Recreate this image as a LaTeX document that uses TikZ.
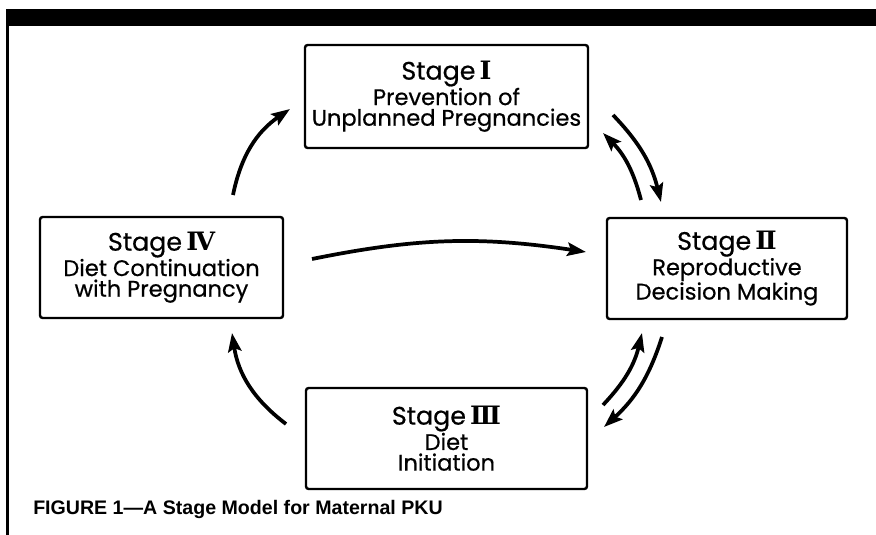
\documentclass[tikz,border=0pt]{standalone}
\usepackage{fontspec}
\usetikzlibrary{arrows.meta}
\newfontfamily\boxfont[FakeBold=0.6]{Poppins}
\newfontfamily\numfont{DejaVu Serif}
\newfontfamily\capfont{Liberation Sans}
\newcommand{\stagehead}[1]{{\fontsize{19pt}{15pt}\selectfont Stage\,{\numfont\bfseries #1}}}
\begin{document}
\begin{tikzpicture}[x=0.75pt,y=-0.75pt,
  stagebox/.style={draw, line width=1.8pt, rounded corners=2pt, align=center,
    inner sep=0pt, font=\boxfont\fontsize{16.9pt}{15.5pt}\selectfont},
  flow/.style={line width=2.8pt, -{Stealth[length=14pt,width=10pt,inset=2.5pt]}}
]
\useasboundingbox (0,0) rectangle (876,535);
% frame
\fill (6,9) rectangle (876,26);
\draw[line width=2.2pt] (7.5,9) -- (7.5,535);

% boxes
\node[stagebox, minimum width=212.25pt, minimum height=77.25pt] (s1) at (446.5,96.5)
  {\stagehead{Ⅰ}\\Prevention of\\Unplanned Pregnancies};
\node[stagebox, minimum width=180pt, minimum height=75.75pt] (s2) at (727,268.5)
  {\stagehead{Ⅱ}\\Reproductive\\Decision Making};
\node[stagebox, minimum width=210.75pt, minimum height=75.75pt] (s3) at (446.5,438.5)
  {\stagehead{Ⅲ}\\Diet\\Initiation};
\node[stagebox, minimum width=182.25pt, minimum height=75.75pt] (s4) at (161.5,267.5)
  {\stagehead{Ⅳ}\\Diet Continuation\\with Pregnancy};

% arrow end points
\coordinate (a41s) at (233,195);  \coordinate (a41e) at (290,109);
\coordinate (a12s) at (613,115);  \coordinate (a12e) at (661,202);
\coordinate (a21s) at (641,200);  \coordinate (a21e) at (603,133);
\coordinate (a23s) at (662,337);  \coordinate (a23e) at (604,427);
\coordinate (a32s) at (603,405);  \coordinate (a32e) at (642,333);
\coordinate (a34s) at (286,424);  \coordinate (a34e) at (232,333);
\coordinate (a42s) at (312,259);  \coordinate (a42e) at (586,252);

\draw[flow] (a41s) to[bend left=22] (a41e);
\draw[flow] (a12s) to[bend left=15] (a12e);
\draw[flow] (a21s) to[bend right=15] (a21e);
\draw[flow] (a23s) to[bend left=15] (a23e);
\draw[flow] (a32s) to[bend right=15] (a32e);
\draw[flow] (a34s) to[bend left=22] (a34e);
\draw[flow] (a42s) to[bend left=10] (a42e);

% caption
\node[anchor=base west, inner sep=0pt, font=\capfont\bfseries\fontsize{14.7pt}{16pt}\selectfont] (cap) at (33,514)
  {FIGURE 1—A Stage Model for Maternal PKU};
\end{tikzpicture}
\end{document}
